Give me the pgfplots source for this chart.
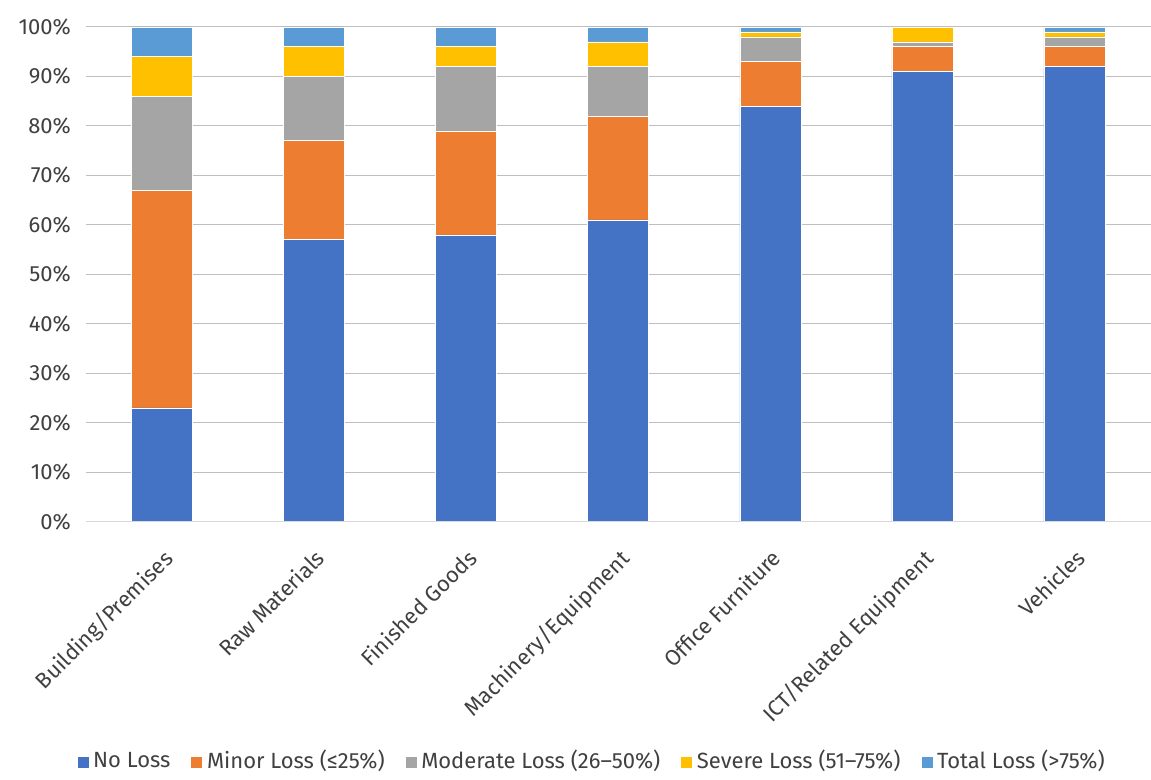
\documentclass[border=0pt]{standalone}
\usepackage{pgfplots}
\pgfplotsset{compat=1.18}
\usepackage{fontspec}
\setmainfont{Fira Sans}
\definecolor{cNo}{HTML}{4472C4}
\definecolor{cMinor}{HTML}{ED7D31}
\definecolor{cMod}{HTML}{A5A5A5}
\definecolor{cSev}{HTML}{FFC000}
\definecolor{cTot}{HTML}{5B9BD5}
\definecolor{txt}{HTML}{404040}
\definecolor{grid}{HTML}{D9D9D9}
\begin{document}
\begin{tikzpicture}[x=1pt,y=1pt]
\fill[white] (0,0) rectangle (575.5,386);
\begin{axis}[
  at={(43pt,125pt)}, anchor=south west,
  scale only axis,
  width=532.5pt, height=247.5pt,
  ybar stacked, bar width=30.5pt,
  xmin=-0.5, xmax=6.5, ymin=0, ymax=100,
  xtick={0,...,6},
  xticklabels={Building/Premises,Raw Materials,Finished Goods,Machinery/Equipment,Office Furniture,ICT/Related Equipment,Vehicles},
  xticklabel style={rotate=45, anchor=north east, font=\fontsize{11}{13}\selectfont, text=txt, inner sep=1pt, yshift=-8pt, xshift=-8pt},
  ytick={0,10,...,100},
  yticklabel={\pgfmathprintnumber{\tick}\%},
  yticklabel style={font=\fontsize{11}{13}\selectfont, text=txt, xshift=-4pt},
  /pgf/number format/assume math mode=true,
  major tick length=0pt,
  ymajorgrids, grid style={grid, line width=0.5pt},
  axis line style={draw=none},
  axis x line*=bottom, axis y line*=left,
  clip=false,
  legend style={at={(0.476,-0.445)}, anchor=north, draw=none, fill=none,
    legend columns=5, font=\fontsize{11}{13}\selectfont, text=txt,
    /tikz/every even column/.append style={column sep=8pt}},
  legend image code/.code={\fill[#1] (0pt,-3.5pt) rectangle (6pt,2.5pt);},
  legend cell align=left,
]
\draw[grid, line width=0.5pt] (axis cs:-0.5,0) -- (axis cs:6.5,0);
\addplot[fill=cNo, draw=white, line width=0.3pt] coordinates {(0,23) (1,57) (2,58) (3,61) (4,84) (5,91) (6,92)};
\addlegendentry{No Loss}
\addplot[fill=cMinor, draw=white, line width=0.3pt] coordinates {(0,44) (1,20) (2,21) (3,21) (4,9) (5,5) (6,4)};
\addlegendentry{Minor Loss (≤25\%)}
\addplot[fill=cMod, draw=white, line width=0.3pt] coordinates {(0,19) (1,13) (2,13) (3,10) (4,5) (5,1) (6,2)};
\addlegendentry{Moderate Loss (26–50\%)}
\addplot[fill=cSev, draw=white, line width=0.3pt] coordinates {(0,8) (1,6) (2,4) (3,5) (4,1) (5,3) (6,1)};
\addlegendentry{Severe Loss (51–75\%)}
\addplot[fill=cTot, draw=white, line width=0.3pt] coordinates {(0,6) (1,4) (2,4) (3,3) (4,1) (5,0) (6,1)};
\addlegendentry{Total Loss (>75\%)}
\end{axis}
\end{tikzpicture}
\end{document}
